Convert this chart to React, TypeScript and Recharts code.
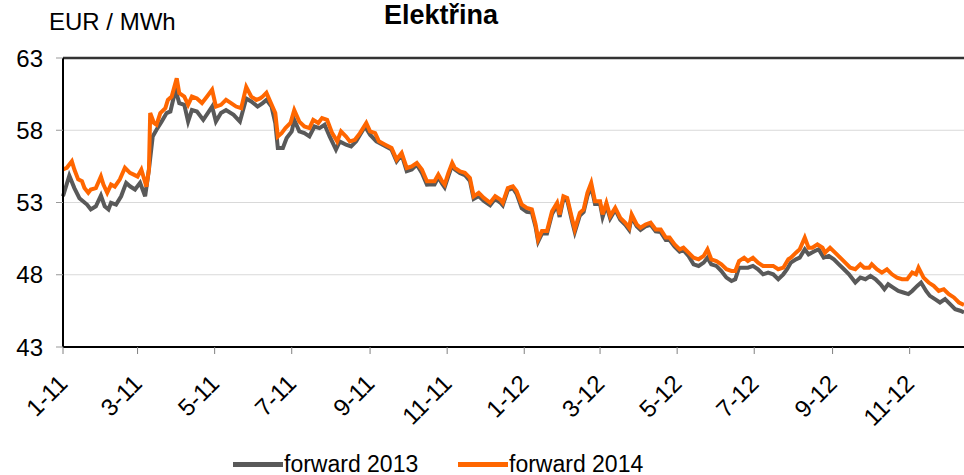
import { LineChart, Line, XAxis, YAxis, CartesianGrid, ReferenceLine, Legend } from 'recharts';

// x values are trading days counted from 1 Jan 2011
const monthTicks = [0, 59, 120, 181, 243, 304, 365, 425, 486, 547, 609, 670];
const monthLabels = ['1-11', '3-11', '5-11', '7-11', '9-11', '11-11', '1-12', '3-12', '5-12', '7-12', '9-12', '11-12'];
const priceTicks = [43, 48, 53, 58, 63];

const days2013 = [
  0, 5, 9, 13, 19, 22, 26, 30, 33, 36, 38, 42, 46, 50, 53, 57, 61, 65, 68, 71, 74, 78, 82, 85, 89, 92, 96, 99,
  102, 106, 111, 118, 121, 125, 129, 135, 140, 145, 149, 154, 158, 161, 165, 168, 170, 174, 177, 181, 183, 187,
  191, 195, 199, 203, 207, 211, 216, 219, 224, 228, 232, 239, 243, 248, 253, 260, 264, 268, 272, 276, 280, 284,
  288, 290, 294, 297, 300, 302, 305, 308, 310, 314, 318, 322, 325, 329, 333, 338, 342, 346, 348, 352, 356, 359,
  363, 367, 371, 374, 376, 379, 383, 387, 391, 393, 396, 399, 403, 405, 409, 412, 415, 418, 421, 425, 427, 430,
  433, 437, 441, 445, 448, 450, 454, 457, 461, 465, 469, 473, 477, 480, 484, 488, 491, 495, 499, 503, 507, 510,
  513, 517, 521, 525, 529, 532, 535, 539, 542, 546, 550, 554, 558, 562, 566, 570, 573, 576, 580, 583, 587, 590,
  595, 598, 602, 606, 610, 614, 618, 622, 627, 631, 635, 639, 643, 647, 650, 653, 657, 661, 665, 669, 672, 676,
  679, 683, 686, 690, 694, 698, 702, 706, 710, 713,
];
const forward2013 = [
  53.43, 54.86, 54.0, 53.3, 52.86, 52.52, 52.74, 53.48, 52.74, 52.52, 52.98, 52.86, 53.43, 54.36, 54.12, 53.9,
  54.36, 53.43, 55.28, 57.57, 58.03, 58.6, 59.19, 59.3, 60.8, 59.88, 59.76, 58.6, 59.4, 59.3, 58.72, 59.64, 58.6,
  59.19, 59.4, 59.07, 58.6, 60.2, 59.99, 59.64, 59.88, 60.1, 59.64, 58.5, 56.77, 56.77, 57.46, 57.92, 58.72, 57.92,
  57.8, 57.57, 58.26, 58.15, 58.38, 57.57, 56.66, 57.23, 57.0, 56.88, 57.23, 58.26, 57.69, 57.23, 57.0, 56.66,
  55.85, 56.31, 55.16, 55.28, 55.62, 55.05, 54.24, 54.25, 54.25, 54.75, 54.3, 54.05, 54.85, 55.6, 55.3, 55.05,
  54.9, 54.5, 53.25, 53.45, 53.1, 52.8, 53.25, 53.0, 52.8, 53.85, 54.0, 53.6, 52.6, 52.35, 52.3, 51.3, 50.3,
  50.85, 50.85, 52.2, 52.8, 52.0, 53.25, 53.15, 51.65, 50.95, 52.1, 52.35, 53.45, 54.1, 52.9, 52.9, 52.0, 52.8,
  51.9, 52.5, 51.8, 51.45, 51.1, 52.0, 51.35, 51.1, 51.35, 51.45, 51.0, 50.95, 50.4, 50.4, 49.95, 49.6, 49.7,
  49.3, 48.72, 48.61, 48.84, 49.18, 48.72, 48.61, 48.26, 47.8, 47.57, 47.69, 48.49, 48.49, 48.49, 48.61, 48.38,
  48.03, 48.15, 48.03, 47.69, 48.03, 48.38, 48.84, 49.07, 49.18, 49.76, 49.41, 49.64, 49.76, 49.18, 49.3, 49.07,
  48.72, 48.38, 48.03, 47.46, 47.8, 47.69, 47.92, 47.69, 47.34, 47.0, 47.34, 47.11, 46.88, 46.77, 46.66, 46.88,
  47.23, 47.46, 46.88, 46.54, 46.31, 46.08, 46.31, 45.97, 45.62, 45.51, 45.39,
];

const days2014 = [
  0, 3, 7, 9, 12, 15, 17, 20, 22, 26, 30, 32, 35, 38, 41, 45, 49, 53, 56, 59, 62, 66, 68, 69, 72, 74, 77, 81, 83,
  86, 90, 92, 96, 99, 102, 106, 110, 114, 118, 121, 125, 129, 133, 137, 141, 145, 149, 153, 156, 158, 161, 164,
  168, 170, 173, 176, 180, 183, 187, 191, 195, 198, 202, 205, 209, 213, 217, 220, 224, 227, 231, 235, 240, 243,
  247, 250, 255, 260, 264, 268, 272, 276, 280, 284, 288, 290, 294, 297, 300, 302, 305, 308, 310, 314, 318, 322,
  325, 329, 333, 338, 342, 346, 348, 352, 356, 359, 363, 367, 371, 374, 376, 379, 383, 387, 391, 393, 396, 399,
  403, 405, 409, 412, 415, 418, 421, 425, 427, 430, 433, 437, 441, 445, 448, 450, 454, 457, 461, 465, 469, 473,
  477, 480, 484, 488, 491, 495, 499, 503, 507, 510, 513, 517, 521, 525, 529, 532, 535, 539, 542, 546, 550, 554,
  558, 562, 566, 570, 574, 576, 580, 583, 587, 590, 593, 597, 601, 603, 607, 611, 615, 619, 623, 627, 631, 634,
  638, 640, 644, 648, 652, 656, 660, 664, 668, 672, 675, 677, 681, 685, 689, 693, 697, 701, 705, 709, 713,
];
const forward2014 = [
  55.28, 55.4, 55.85, 55.28, 54.6, 54.47, 54.0, 53.67, 53.9, 54.0, 54.8, 54.24, 53.67, 54.24, 54.1, 54.6, 55.4,
  55.05, 54.93, 54.8, 55.28, 54.1, 55.28, 59.19, 58.5, 58.38, 59.19, 59.53, 60.1, 60.33, 61.6, 60.57, 60.33, 59.76,
  60.33, 60.2, 59.88, 60.33, 60.8, 59.64, 59.76, 60.1, 59.88, 59.64, 59.53, 61.0, 60.33, 60.1, 60.2, 60.33, 60.6,
  59.99, 59.19, 57.57, 57.8, 58.15, 58.5, 59.4, 58.6, 58.26, 58.15, 58.72, 58.5, 58.84, 58.72, 57.8, 57.23, 57.92,
  57.57, 57.23, 57.34, 57.8, 58.5, 57.92, 57.8, 57.23, 57.0, 56.77, 55.97, 56.43, 55.39, 55.5, 55.74, 55.28, 54.47,
  54.47, 54.47, 54.93, 54.47, 54.24, 55.05, 55.74, 55.39, 55.16, 55.05, 54.7, 53.43, 53.67, 53.32, 52.98, 53.43,
  53.2, 52.98, 54.0, 54.12, 53.78, 52.86, 52.63, 52.52, 51.48, 50.45, 51.02, 51.02, 52.4, 52.98, 52.17, 53.43,
  53.32, 51.83, 51.14, 52.29, 52.52, 53.67, 54.36, 53.09, 53.09, 52.17, 52.98, 52.06, 52.63, 51.94, 51.6, 51.25,
  52.17, 51.48, 51.25, 51.48, 51.6, 51.14, 51.14, 50.57, 50.57, 50.1, 49.76, 49.87, 49.53, 49.18, 49.07, 49.3,
  49.76, 49.07, 48.95, 48.72, 48.38, 48.26, 48.26, 48.95, 49.18, 48.95, 49.18, 48.84, 48.61, 48.61, 48.61, 48.38,
  48.49, 49.07, 49.18, 49.53, 49.76, 50.57, 49.87, 49.87, 50.1, 49.87, 49.53, 49.87, 49.53, 49.18, 48.84, 48.49,
  48.38, 48.72, 48.49, 48.49, 48.72, 48.38, 48.15, 48.38, 48.03, 47.8, 47.69, 47.69, 48.15, 48.03, 48.49, 47.8,
  47.46, 47.23, 46.88, 47.0, 46.66, 46.43, 46.08, 45.9,
];

const series2013 = days2013.map((day, i) => ({ day, price: forward2013[i] }));
const series2014 = days2014.map((day, i) => ({ day, price: forward2014[i] }));

const FONT = '"Liberation Sans", Arial, sans-serif';

function MonthTick(props: any) {
  const { x, payload } = props;
  const idx = monthTicks.indexOf(payload.value);
  const px = x + 6;
  const py = 385;
  return (
    <text
      x={px}
      y={py}
      textAnchor="end"
      fontSize={24}
      fill="#000"
      fontFamily={FONT}
      transform={`rotate(-45 ${px} ${py})`}
    >
      {monthLabels[idx]}
    </text>
  );
}

function LegendContent() {
  const item = (left: number, color: string, label: string) => (
    <div style={{ position: 'absolute', left, top: 0, height: 30, display: 'flex', alignItems: 'center' }}>
      <div style={{ width: 50, height: 5, background: color }} />
      <span style={{ fontSize: 23, color: '#000', fontFamily: FONT, marginLeft: 1 }}>{label}</span>
    </div>
  );
  return (
    <div style={{ position: 'relative', width: 964, height: 30 }}>
      {item(233, '#595959', 'forward 2013')}
      {item(458, '#FF6600', 'forward 2014')}
    </div>
  );
}

export default function App() {
  return (
    <div
      style={{
        position: 'absolute',
        left: 0,
        top: 0,
        width: 964,
        height: 475,
        background: '#fff',
        overflow: 'hidden',
        fontFamily: FONT,
      }}
    >
      <div style={{ position: 'absolute', left: 49, top: 8, fontSize: 24, color: '#000' }}>EUR / MWh</div>
      <div
        style={{
          position: 'absolute',
          left: 0,
          width: 882,
          top: 0,
          textAlign: 'center',
          fontSize: 27,
          fontWeight: 'bold',
          color: '#000',
        }}
      >
        Elektřina
      </div>
      <LineChart width={964} height={475} margin={{ top: 58, right: 0, left: 8, bottom: 28 }}>
        <CartesianGrid vertical={false} stroke="#d9d9d9" />
        <XAxis
          type="number"
          dataKey="day"
          domain={[0, 713]}
          ticks={monthTicks}
          tick={<MonthTick />}
          tickSize={7}
          height={100}
          interval={0}
          axisLine={{ stroke: '#000', strokeWidth: 2 }}
          tickLine={{ stroke: '#808080' }}
        />
        <YAxis
          type="number"
          domain={[43, 63]}
          ticks={priceTicks}
          width={55}
          tickSize={7}
          tickMargin={13}
          interval={0}
          tick={{ fontSize: 24, fill: '#000', fontFamily: FONT }}
          axisLine={{ stroke: '#000', strokeWidth: 2 }}
          tickLine={{ stroke: '#999' }}
        />
        <ReferenceLine y={63} stroke="#333" strokeWidth={2.5} />
        <Legend
          layout="horizontal"
          verticalAlign="middle"
          align="center"
          wrapperStyle={{ left: 0, top: 449, width: 964, height: 30 }}
          content={<LegendContent />}
        />
        <Line
          data={series2013}
          dataKey="price"
          name="forward 2013"
          type="linear"
          stroke="#595959"
          strokeWidth={4}
          dot={false}
          isAnimationActive={false}
        />
        <Line
          data={series2014}
          dataKey="price"
          name="forward 2014"
          type="linear"
          stroke="#FF6600"
          strokeWidth={4}
          dot={false}
          isAnimationActive={false}
        />
      </LineChart>
    </div>
  );
}
